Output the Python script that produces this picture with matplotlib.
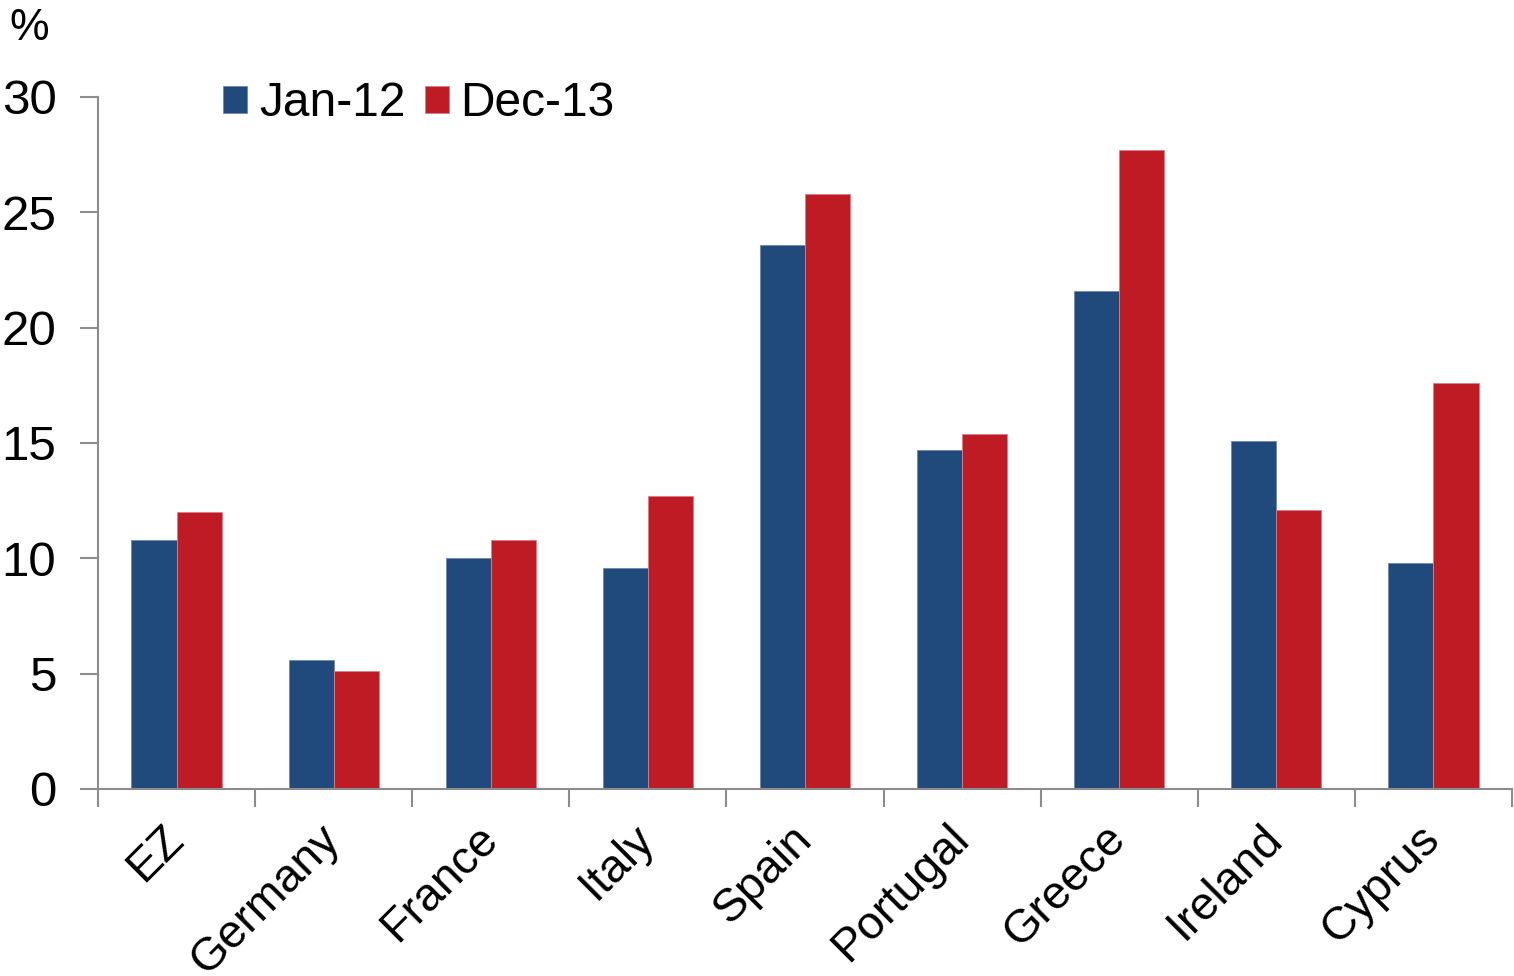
import matplotlib
matplotlib.use("Agg")
import matplotlib.pyplot as plt
import numpy as np

plt.rcParams["font.family"] = ["Liberation Sans", "DejaVu Sans"]

countries = ["EZ", "Germany", "France", "Italy", "Spain", "Portugal", "Greece", "Ireland", "Cyprus"]
jan_12 = [10.8, 5.6, 10.0, 9.6, 23.6, 14.7, 21.6, 15.1, 9.8]
dec_13 = [12.0, 5.1, 10.8, 12.7, 25.8, 15.4, 27.7, 12.1, 17.6]
series_labels = ["Jan-12", "Dec-13"]
y_ticks = [0, 5, 10, 15, 20, 25, 30]

BLUE = "#214A7C"
RED = "#BE1B24"
AXIS = "#8C8C8C"
FS = 35.5

fig = plt.figure(figsize=(15.14, 9.76), dpi=100)
ax = fig.add_axes([98 / 1514, 1 - 789 / 976, (1512 - 98) / 1514, (789 - 97) / 976])

x = np.arange(len(countries))
width = 0.287
ax.bar(x - width / 2, jan_12, width, color=BLUE, edgecolor="#6f88a8", linewidth=0.6,
       label=series_labels[0])
ax.bar(x + width / 2, dec_13, width, color=RED, edgecolor="#d98088", linewidth=0.6,
       label=series_labels[1])

ax.set_xlim(-0.5, len(countries) - 0.5)
ax.set_ylim(0, 30)
ax.set_yticks(y_ticks)
ax.set_yticklabels([str(v) for v in y_ticks], fontsize=FS)

# category boundaries carry the tick marks, labels sit at the centres
ax.set_xticks(np.arange(len(countries) + 1) - 0.5)
ax.set_xticklabels([])
ax.set_xticks(x, minor=True)
ax.set_xticklabels(countries, minor=True, rotation=45, ha="right", va="center",
                   rotation_mode="anchor", fontsize=33.5)
ax.tick_params(axis="x", which="minor", length=0, pad=31)
ax.tick_params(axis="x", which="major", length=13, width=1.5, color=AXIS, direction="out")
ax.tick_params(axis="y", length=13, width=1.5, color=AXIS, direction="out", pad=17)

for side in ["top", "right"]:
    ax.spines[side].set_visible(False)
for side in ["left", "bottom"]:
    ax.spines[side].set_color(AXIS)
    ax.spines[side].set_linewidth(1.5)

ax.legend(loc="upper left", bbox_to_anchor=(0.058, 1.085), ncol=2, frameon=False,
          fontsize=34.5, handlelength=0.5, handleheight=0.5, handletextpad=0.25,
          columnspacing=0.4)

fig.text(0.006, 0.992, "%", fontsize=32, va="top", ha="left")

fig.savefig("out.png", dpi=100)
